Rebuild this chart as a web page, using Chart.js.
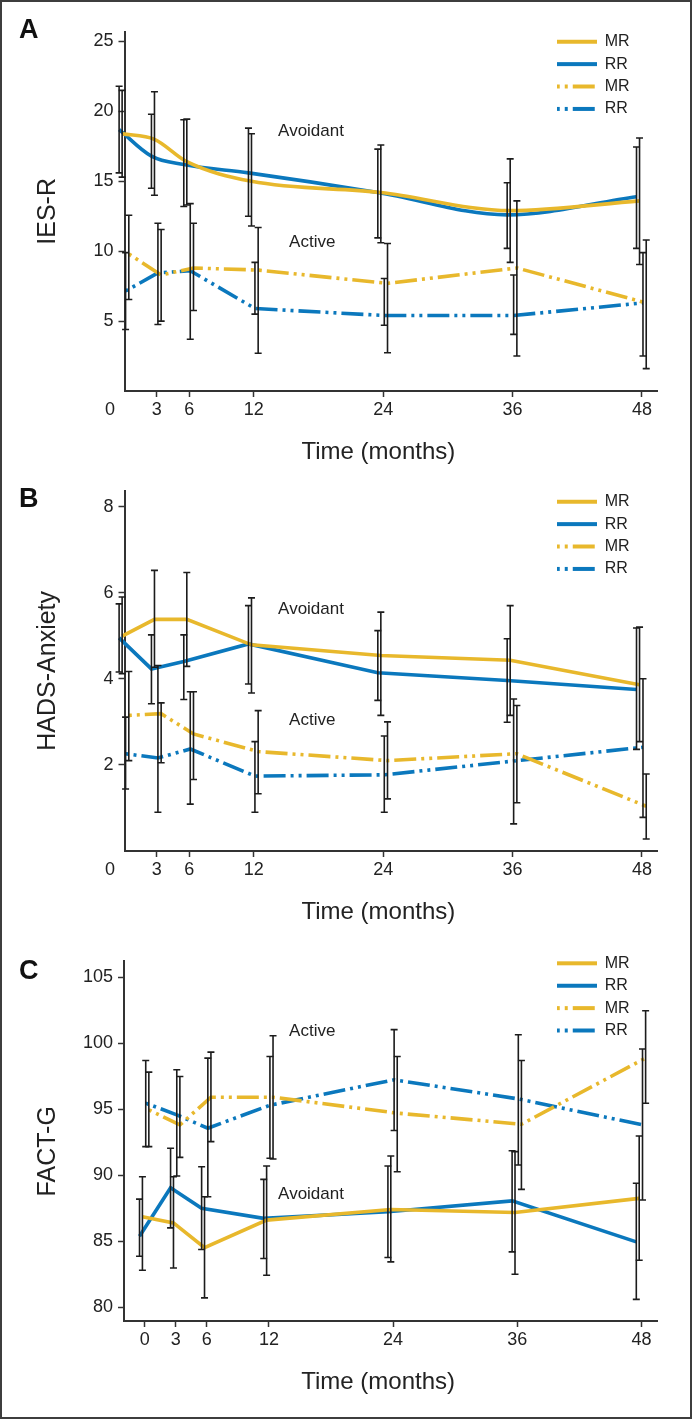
<!DOCTYPE html>
<html>
<head>
<meta charset="utf-8">
<script src="https://cdn.jsdelivr.net/npm/chart.js@4.4.1/dist/chart.umd.min.js"></script>
<style>
html,body{margin:0;padding:0;background:#fff;}
#wrap{position:relative;width:692px;height:1419px;overflow:hidden;background:#fff;}
#frame{position:absolute;left:0;top:0;width:692px;height:1419px;box-sizing:border-box;border:2px solid #3d3d3d;pointer-events:none;}
.p{position:absolute;left:0;width:692px;}
canvas{display:block;}
</style>
</head>
<body>
<div id="wrap">
  <div class="p" style="top:0;height:470px"><canvas id="cA" width="692" height="470"></canvas></div>
  <div class="p" style="top:470px;height:460px"><canvas id="cB" width="692" height="460"></canvas></div>
  <div class="p" style="top:940px;height:460px"><canvas id="cC" width="692" height="460"></canvas></div>
  <div id="frame"></div>
</div>
<script>
// ---------- DATA ----------
const months = [0, 3, 6, 12, 24, 36, 48];
const xTickValues = [0, 3, 6, 12, 24, 36, 48];
const legendLabels = ['MR', 'RR', 'MR', 'RR'];

// Panel A – IES-R
const iesTicks = [5, 10, 15, 20, 25];
const iesMrAvoid  = [18.4, 18.0, 16.4, 15.0, 14.2, 12.9, 13.6];
const iesRrAvoid  = [18.7, 16.8, 16.2, 15.6, 14.2, 12.6, 13.9];
const iesMrActive = [9.8, 8.3, 8.8, 8.65, 7.7, 8.8, 6.3];
const iesRrActive = [7.15, 8.45, 8.6, 5.9, 5.4, 5.4, 6.3];
const iesMrAvoidLo  = [15.3, 14.0, 13.3, 11.8, 10.6, 9.2, 9.05];
const iesMrAvoidHi  = [21.5, 21.4, 19.45, 18.4, 17.6, 16.6, 18.1];
const iesRrAvoidLo  = [15.6, 14.5, 13.2, 12.5, 10.95, 10.2, 10.2];
const iesRrAvoidHi  = [21.8, 19.8, 19.4, 18.8, 17.3, 14.9, 17.45];
const iesMrActiveLo = [6.55, 5.0, 5.76, 2.7, 2.74, 2.5, 1.6];
const iesMrActiveHi = [12.57, 11.55, 12.0, 11.7, 10.55, 13.6, 10.8];
const iesRrActiveLo = [4.4, 4.76, 3.7, 5.5, 4.7, 4.05, 2.5];
const iesRrActiveHi = [9.9, 12.0, 13.4, 9.2, 8.05, 8.3, 9.9];

// Panel B – HADS-Anxiety
const hadsTicks = [2, 4, 6, 8];
const hadsMrAvoid  = [4.99, 5.38, 5.38, 4.79, 4.54, 4.43, 3.86];
const hadsRrAvoid  = [4.95, 4.23, 4.4, 4.81, 4.14, 3.96, 3.75];
const hadsMrActive = [3.15, 3.19, 2.72, 2.31, 2.1, 2.26, 1.04];
const hadsRrActive = [2.26, 2.16, 2.37, 1.74, 1.77, 2.09, 2.41];
const hadsMrAvoidLo  = [4.12, 4.27, 4.29, 3.67, 3.15, 3.15, 2.54];
const hadsMrAvoidHi  = [5.9, 6.52, 6.47, 5.88, 5.55, 5.7, 5.2];
const hadsRrAvoidLo  = [4.16, 3.42, 3.52, 3.88, 3.5, 2.99, 2.36];
const hadsRrAvoidHi  = [5.74, 5.02, 5.02, 5.7, 5.12, 4.93, 5.18];
const hadsMrActiveLo = [2.1, 2.05, 1.66, 1.33, 1.21, 1.12, 0.28];
const hadsMrActiveHi = [4.17, 3.44, 3.7, 3.26, 3.0, 3.38, 1.79];
const hadsRrActiveLo = [1.44, 0.9, 1.09, 0.9, 0.9, 0.63, 0.78];
const hadsRrActiveHi = [3.11, 4.31, 3.7, 2.54, 2.67, 3.53, 4.0];

// Panel C – FACT-G
const factTicks = [80, 85, 90, 95, 100, 105];
const factMrAvoid  = [86.84, 86.38, 84.51, 86.59, 87.4, 87.17, 88.24];
const factRrAvoid  = [85.37, 89.04, 87.48, 86.72, 87.22, 88.05, 84.94];
const factMrActive = [94.95, 93.81, 95.91, 95.91, 94.7, 93.86, 98.88];
const factRrActive = [95.46, 94.57, 93.56, 95.3, 97.23, 95.78, 93.81];
const factMrAvoidLo  = [82.79, 82.96, 80.69, 82.41, 83.42, 82.48, 83.55];
const factMrAvoidHi  = [89.88, 89.88, 88.36, 90.69, 91.45, 91.78, 92.97];
const factRrAvoidLo  = [83.85, 86.0, 84.36, 83.68, 83.75, 84.18, 80.58];
const factRrAvoidHi  = [88.18, 92.04, 90.64, 89.68, 90.69, 91.85, 89.38];
const factMrActiveLo = [92.16, 91.35, 92.54, 91.22, 90.26, 88.92, 95.45];
const factMrActiveHi = [97.81, 97.48, 99.33, 100.57, 99.0, 98.69, 102.47];
const factRrActiveLo = [92.16, 89.93, 88.36, 91.28, 93.38, 90.77, 88.11];
const factRrActiveHi = [98.69, 97.99, 98.87, 99.0, 101.03, 100.65, 99.56];

// ---------- STYLE ----------
const YELLOW = '#E8B82C';
const BLUE = '#0B78BD';
const INK = '#222222';
const AXIS = '#333333';
const FONT = "'Liberation Sans', Arial, sans-serif";
const DASH = [22, 5, 3, 5, 3, 5];
const DASH_OFFSET = 27;
// dodge offsets (months) so error bars sit side by side
const DODGE = { mrAvoid: -0.22, rrAvoid: -0.5, mrActive: 0.4, rrActive: 0.1 };

function pts(vals, off) { return months.map((m, i) => ({ x: m + off, y: vals[i] })); }

function series(label, vals, lo, hi, color, dashed, off, smooth) {
  return {
    label, data: pts(vals, off), errLo: lo, errHi: hi,
    borderColor: color, backgroundColor: color, borderWidth: 3.6,
    borderDash: dashed ? DASH : [], borderDashOffset: dashed ? DASH_OFFSET : 0,
    pointRadius: 0, pointHoverRadius: 0, tension: 0, clip: false,
    cubicInterpolationMode: smooth ? 'monotone' : 'default'
  };
}

// legend sample: a 40px line drawn left to right with the dataset's dash pattern
function legendSample(color, dash) {
  const c = document.createElement('canvas');
  c.width = 40; c.height = 6;
  const g = c.getContext('2d');
  g.strokeStyle = color;
  g.lineWidth = 4;
  g.lineCap = 'butt';
  g.setLineDash(dash);
  g.lineDashOffset = dash.length ? DASH_OFFSET : 0;
  g.beginPath(); g.moveTo(0, 3); g.lineTo(40, 3); g.stroke();
  return c;
}

const errorBarPlugin = {
  id: 'errorBars',
  afterDatasetsDraw(chart) {
    const ctx = chart.ctx, xs = chart.scales.x, ys = chart.scales.y;
    ctx.save();
    ctx.strokeStyle = '#1c1c1c';
    ctx.lineWidth = 1.6;
    chart.data.datasets.forEach(ds => {
      ds.data.forEach((p, i) => {
        const px = xs.getPixelForValue(p.x);
        const yl = ys.getPixelForValue(ds.errLo[i]);
        const yh = ys.getPixelForValue(ds.errHi[i]);
        ctx.beginPath();
        ctx.moveTo(px, yl); ctx.lineTo(px, yh);
        ctx.moveTo(px - 3.5, yl); ctx.lineTo(px + 3.5, yl);
        ctx.moveTo(px - 3.5, yh); ctx.lineTo(px + 3.5, yh);
        ctx.stroke();
      });
    });
    ctx.restore();
  }
};

function legendItems(chart) {
  const items = Chart.defaults.plugins.legend.labels.generateLabels(chart);
  items.forEach(it => {
    const ds = chart.data.datasets[it.datasetIndex];
    it.pointStyle = legendSample(ds.borderColor, ds.borderDash);
    it.lineWidth = 0;
  });
  return items;
}

function makePanel(cfg) {
  const textPlugin = {
    id: 'panelText',
    afterDraw(chart) {
      const ctx = chart.ctx, xs = chart.scales.x, ys = chart.scales.y;
      ctx.save();
      ctx.fillStyle = '#111';
      ctx.font = 'bold 27px ' + FONT;
      ctx.textAlign = 'left';
      ctx.textBaseline = 'middle';
      ctx.fillText(cfg.letter, 19, cfg.letterY);
      ctx.fillStyle = INK;
      ctx.font = '17px ' + FONT;
      cfg.notes.forEach(n => {
        ctx.fillText(n.text, xs.getPixelForValue(n.x), ys.getPixelForValue(n.y));
      });
      ctx.restore();
    }
  };
  const legendPlace = {
    id: 'legendPlace',
    afterLayout(chart) {
      const lg = chart.legend;
      if (!lg) return;
      const pad = 6.4;
      lg.left = 556.7 - pad;
      lg.top = cfg.legendRow1 - 8 - pad;
      lg.width = 130; lg.height = 120;
      lg.right = lg.left + lg.width;
      lg.bottom = lg.top + lg.height;
    }
  };
  const datasets = [
    series(legendLabels[0], cfg.mrAvoid, cfg.mrAvoidLo, cfg.mrAvoidHi, YELLOW, false, DODGE.mrAvoid, cfg.smooth),
    series(legendLabels[1], cfg.rrAvoid, cfg.rrAvoidLo, cfg.rrAvoidHi, BLUE, false, DODGE.rrAvoid, cfg.smooth),
    series(legendLabels[2], cfg.mrActive, cfg.mrActiveLo, cfg.mrActiveHi, YELLOW, true, DODGE.mrActive, false),
    series(legendLabels[3], cfg.rrActive, cfg.rrActiveLo, cfg.rrActiveHi, BLUE, true, DODGE.rrActive, false)
  ];
  return new Chart(document.getElementById(cfg.id), {
    type: 'line',
    data: { datasets },
    plugins: [errorBarPlugin, textPlugin, legendPlace],
    options: {
      responsive: false,
      animation: false,
      events: [],
      layout: { padding: { left: 0, right: 35, top: cfg.topPad, bottom: 0 } },
      plugins: {
        tooltip: { enabled: false },
        legend: {
          display: true,
          position: 'chartArea',
          align: 'start',
          labels: {
            usePointStyle: true, pointStyleWidth: 40,
            padding: 6.4, color: INK, font: { family: FONT, size: 16 },
            generateLabels: legendItems
          }
        }
      },
      scales: {
        x: {
          type: 'linear', position: 'bottom',
          min: cfg.xMin, max: cfg.xMax,
          afterFit(s) { s.height = 79; },
          afterBuildTicks(s) { s.ticks = cfg.xTicks.map(v => ({ value: v })); },
          border: { display: true, color: AXIS, width: 2 },
          grid: {
            display: true, drawOnChartArea: false, drawTicks: true, tickLength: 6, tickWidth: 1.5,
            tickColor: (c) => (c.tick && c.tick.value < cfg.xMin) ? 'rgba(0,0,0,0)' : AXIS
          },
          ticks: {
            color: INK, padding: 2, maxRotation: 0, autoSkip: false,
            font: { family: FONT, size: 18 },
            callback: (v) => v < 0 ? '0' : String(v)
          },
          title: {
            display: true, text: 'Time (months)\u00a0\u00a0\u00a0\u2009', color: INK,
            font: { family: FONT, size: 24 }, padding: { top: 0, bottom: 3.6 }
          }
        },
        y: {
          type: 'linear', position: 'left',
          min: cfg.yMin, max: cfg.yMax,
          afterFit(s) { s.width = cfg.yWidth; },
          afterBuildTicks(s) { s.ticks = cfg.yTicks.map(v => ({ value: v })); },
          border: { display: true, color: AXIS, width: 2 },
          grid: { display: true, drawOnChartArea: false, drawTicks: true, tickLength: 6, tickWidth: 1.5, tickColor: AXIS },
          ticks: { color: INK, padding: 5, font: { family: FONT, size: 18 }, autoSkip: false },
          title: {
            display: true, text: cfg.yTitle, color: INK,
            font: { family: FONT, size: 25 }, padding: { top: 33, bottom: 0 }
          }
        }
      }
    }
  });
}

const zeroLabelPos = -1.34; // the "0" month label sits left of the y axis in panels A and B
const ticksAB = xTickValues.map(v => v === 0 ? zeroLabelPos : v);

makePanel({
  id: 'cA', letter: 'A', letterY: 31, topPad: 31.7, legendRow1: 41.7, yWidth: 124.5,
  xMin: 0, xMax: 49.4, xTicks: ticksAB, yMin: 0, yMax: 25.7, yTicks: iesTicks, yTitle: 'IES-R', smooth: true,
  mrAvoid: iesMrAvoid, rrAvoid: iesRrAvoid, mrActive: iesMrActive, rrActive: iesRrActive,
  mrAvoidLo: iesMrAvoidLo, mrAvoidHi: iesMrAvoidHi, rrAvoidLo: iesRrAvoidLo, rrAvoidHi: iesRrAvoidHi,
  mrActiveLo: iesMrActiveLo, mrActiveHi: iesMrActiveHi, rrActiveLo: iesRrActiveLo, rrActiveHi: iesRrActiveHi,
  notes: [{ text: 'Avoidant', x: 14.25, y: 18.6 }, { text: 'Active', x: 15.27, y: 10.64 }]
});

makePanel({
  id: 'cB', letter: 'B', letterY: 30, topPad: 20.7, legendRow1: 31.7, yWidth: 124.5,
  xMin: 0, xMax: 49.4, xTicks: ticksAB, yMin: 0, yMax: 8.37, yTicks: hadsTicks, yTitle: 'HADS-Anxiety', smooth: false,
  mrAvoid: hadsMrAvoid, rrAvoid: hadsRrAvoid, mrActive: hadsMrActive, rrActive: hadsRrActive,
  mrAvoidLo: hadsMrAvoidLo, mrAvoidHi: hadsMrAvoidHi, rrAvoidLo: hadsRrAvoidLo, rrAvoidHi: hadsRrAvoidHi,
  mrActiveLo: hadsMrActiveLo, mrActiveHi: hadsMrActiveHi, rrActiveLo: hadsRrActiveLo, rrActiveHi: hadsRrActiveHi,
  notes: [{ text: 'Avoidant', x: 14.25, y: 5.61 }, { text: 'Active', x: 15.27, y: 3.03 }]
});

makePanel({
  id: 'cC', letter: 'C', letterY: 31.5, topPad: 20.7, legendRow1: 23.3, yWidth: 124,
  xMin: -2.0, xMax: 49.5, xTicks: xTickValues, yMin: 78.94, yMax: 106.26, yTicks: factTicks,
  yTitle: 'FACT-G\u00a0\u00a0\u00a0', smooth: false,
  mrAvoid: factMrAvoid, rrAvoid: factRrAvoid, mrActive: factMrActive, rrActive: factRrActive,
  mrAvoidLo: factMrAvoidLo, mrAvoidHi: factMrAvoidHi, rrAvoidLo: factRrAvoidLo, rrAvoidHi: factRrAvoidHi,
  mrActiveLo: factMrActiveLo, mrActiveHi: factMrActiveHi, rrActiveLo: factRrActiveLo, rrActiveHi: factRrActiveHi,
  notes: [{ text: 'Active', x: 13.95, y: 100.9 }, { text: 'Avoidant', x: 12.89, y: 88.56 }]
});
</script>
</body>
</html>
